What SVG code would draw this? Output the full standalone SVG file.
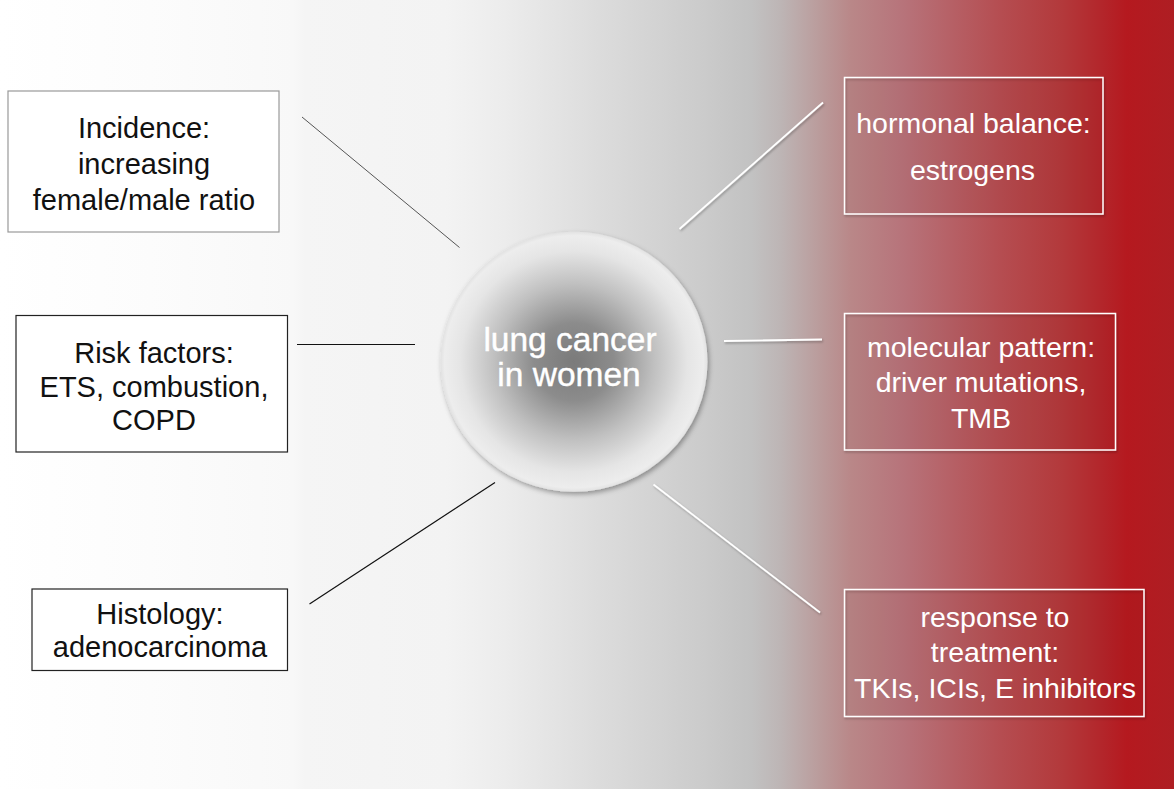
<svg xmlns="http://www.w3.org/2000/svg" width="1174" height="789" viewBox="0 0 1174 789">
  <defs>
    <linearGradient id="bg" gradientUnits="userSpaceOnUse" x1="0" y1="0" x2="1174" y2="0">
      <stop offset="0" stop-color="#ffffff"/>
      <stop offset="0.128" stop-color="#fcfcfc"/>
      <stop offset="0.25" stop-color="#f8f8f8"/>
      <stop offset="0.26" stop-color="#f5f5f5"/>
      <stop offset="0.38" stop-color="#f3f3f3"/>
      <stop offset="0.43" stop-color="#ececec"/>
      <stop offset="0.51" stop-color="#dcdcdc"/>
      <stop offset="0.6" stop-color="#cbcbcb"/>
      <stop offset="0.64" stop-color="#c2c2c2"/>
      <stop offset="0.665" stop-color="#bdb5b5"/>
      <stop offset="0.70" stop-color="#ba9a9a"/>
      <stop offset="0.725" stop-color="#b98788"/>
      <stop offset="0.77" stop-color="#b7737a"/>
      <stop offset="0.85" stop-color="#b54e52"/>
      <stop offset="0.905" stop-color="#b3393b"/>
      <stop offset="0.94" stop-color="#b3252a"/>
      <stop offset="0.96" stop-color="#b5191f"/>
      <stop offset="1" stop-color="#ae1e23"/>
    </linearGradient>
    <radialGradient id="ball" cx="0.5" cy="0.5" r="0.5">
      <stop offset="0" stop-color="#7a7a7a"/>
      <stop offset="0.3" stop-color="#8c8c8c"/>
      <stop offset="0.6" stop-color="#c0c0c0"/>
      <stop offset="0.85" stop-color="#e5e5e5"/>
      <stop offset="0.97" stop-color="#ededed"/>
      <stop offset="1" stop-color="#e2e2e2"/>
    </radialGradient>
    <filter id="ballShadow" x="-20%" y="-20%" width="140%" height="140%">
      <feDropShadow dx="1.5" dy="2.5" stdDeviation="2.5" flood-color="#000" flood-opacity="0.35"/>
    </filter>
    <filter id="soft" x="-10%" y="-10%" width="120%" height="120%">
      <feDropShadow dx="1" dy="1.5" stdDeviation="1.2" flood-color="#000" flood-opacity="0.3"/>
    </filter>
    <style>
      .lbox { fill: #ffffff; stroke: #222; stroke-width: 1.2; }
      .lbox.gray { stroke: #999; }
      .rbox { fill: #5a0000; fill-opacity: 0.04; stroke: #ffffff; stroke-width: 1.5; }
      .ltxt { font-family: "Liberation Sans", Arial, sans-serif; font-size: 29px; fill: #111; text-anchor: middle; }
      .rtxt { font-family: "Liberation Sans", Arial, sans-serif; font-size: 28.5px; fill: #ffffff; text-anchor: middle; }
      .ctxt { font-family: "Liberation Sans", Arial, sans-serif; font-size: 33.5px; fill: #ffffff; stroke: #ffffff; stroke-width: 0.4; text-anchor: middle; }
      .dark { stroke: #111; stroke-width: 1.2; fill: none; }
      .grayline { stroke: #555; stroke-width: 1; fill: none; }
      .white { stroke: #ffffff; stroke-width: 1.8; fill: none; }
    </style>
  </defs>

  <rect x="0" y="0" width="1174" height="789" fill="url(#bg)"/>

  <g id="connectors">
    <line class="grayline" x1="302" y1="117" x2="459.5" y2="247.5"/>
    <line class="dark" x1="297" y1="344.5" x2="415" y2="344.5"/>
    <line class="dark" x1="309.5" y1="604" x2="495" y2="482.5"/>
    <g filter="url(#soft)">
      <line class="white" x1="679.5" y1="229" x2="823" y2="102.5"/>
      <line class="white" x1="724" y1="341" x2="822" y2="339.5"/>
      <line class="white" x1="653.5" y1="484.5" x2="820" y2="612.5"/>
    </g>
  </g>

  <g id="center">
    <ellipse cx="574" cy="361.7" rx="133.5" ry="130" fill="url(#ball)" filter="url(#ballShadow)"/>
    <text class="ctxt" x="570" y="351">lung cancer</text>
    <text class="ctxt" x="569" y="386">in women</text>
  </g>

  <g id="incidence">
    <rect class="lbox gray" x="8" y="91" width="271" height="141"/>
    <text class="ltxt" x="144" y="138">Incidence:</text>
    <text class="ltxt" x="144" y="174">increasing</text>
    <text class="ltxt" x="144" y="210">female/male ratio</text>
  </g>

  <g id="risk">
    <rect class="lbox" x="16" y="315.5" width="271.5" height="136.5"/>
    <text class="ltxt" x="154" y="363">Risk factors:</text>
    <text class="ltxt" x="154" y="397">ETS, combustion,</text>
    <text class="ltxt" x="154" y="430">COPD</text>
  </g>

  <g id="histology">
    <rect class="lbox" x="32" y="589" width="255.5" height="81.5"/>
    <text class="ltxt" x="160" y="624">Histology:</text>
    <text class="ltxt" x="160" y="657">adenocarcinoma</text>
  </g>

  <g id="hormonal">
    <rect class="rbox" x="844.5" y="77.5" width="258.5" height="136.5" filter="url(#soft)"/>
    <text class="rtxt" x="973.5" y="133">hormonal balance:</text>
    <text class="rtxt" x="972.5" y="180">estrogens</text>
  </g>

  <g id="molecular">
    <rect class="rbox" x="844.5" y="313.5" width="271" height="136.5" filter="url(#soft)"/>
    <text class="rtxt" x="981" y="357">molecular pattern:</text>
    <text class="rtxt" x="981" y="392">driver mutations,</text>
    <text class="rtxt" x="981" y="428">TMB</text>
  </g>

  <g id="response">
    <rect class="rbox" x="844.5" y="589.5" width="299.5" height="127" filter="url(#soft)"/>
    <text class="rtxt" x="995" y="626.5">response to</text>
    <text class="rtxt" x="995" y="662">treatment:</text>
    <text class="rtxt" x="995" y="698">TKIs, ICIs, E inhibitors</text>
  </g>
</svg>
